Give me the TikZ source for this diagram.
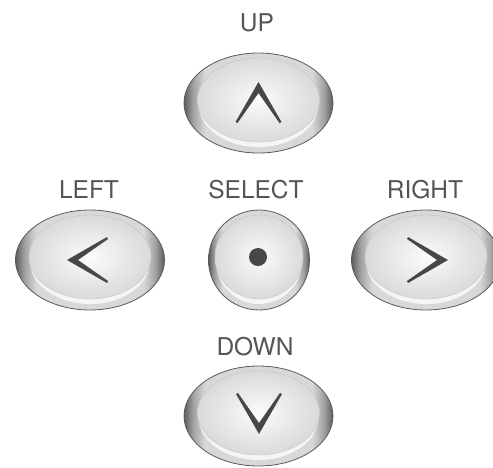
\documentclass[tikz,border=0pt]{standalone}
\usepackage{fontspec}
\setmainfont{TeX Gyre Heros}
\usetikzlibrary{shapes.geometric}

\definecolor{rimdark}{HTML}{5C5C5C}
\definecolor{rimmid}{HTML}{A0A0A0}
\definecolor{rimlight}{HTML}{D8D8D8}
\definecolor{facegray}{HTML}{DADADA}
\definecolor{faceglow}{HTML}{FBFBFB}
\definecolor{edgegray}{HTML}{5A5A5A}
\definecolor{inkgray}{HTML}{474747}
\definecolor{labelgray}{HTML}{555555}

\pgfdeclarehorizontalshading{rimshade}{100bp}{color(0bp)=(rimdark); color(25bp)=(rimdark); color(28bp)=(rimmid); color(32bp)=(rimlight); color(68bp)=(rimlight); color(72bp)=(rimmid); color(75bp)=(rimdark); color(100bp)=(rimdark)}

\tikzset{
    chevron/.pic={
        \fill[inkgray] (-23,19) -- (0,-21) -- (23,19) -- (21,20) -- (0,-10) -- (-21,20) -- cycle;
    }
}

\begin{document}
\begin{tikzpicture}[x=1pt,y=-1pt,
    rim/.style={ellipse, draw=edgegray, line width=0.8pt, shading=rimshade, inner sep=0pt, minimum width=#1, minimum height=100pt},
    glint/.style={ellipse, fill=white!92!gray, inner sep=0pt, minimum width=#1, minimum height=86pt},
    face/.style={ellipse, draw=gray!45, line width=0.4pt, inner color=faceglow, outer color=facegray, inner sep=0pt, minimum width=#1, minimum height=84pt},
    keylabel/.style={anchor=base, text=labelgray, font=\fontsize{24.5}{28}\selectfont}]

    \useasboundingbox (0,0) rectangle (493,467);

    % up
    \node[keylabel] (uplabel) at (257,31) {UP};
    \node[rim=149pt] (upkey) at (258.5,103) {};
    \node[glint=120pt] (upglint) at ([yshift=-1pt]upkey.center) {};
    \node[face=122pt] (upface) at ([yshift=3pt]upkey.center) {};
    \pic at (258.5,103) {chevron};

    % left
    \node[keylabel] (leftlabel) at (89,198) {LEFT};
    \node[rim=149pt] (leftkey) at (90,260) {};
    \node[glint=120pt] (leftglint) at ([yshift=-1pt]leftkey.center) {};
    \node[face=122pt] (leftface) at ([yshift=3pt]leftkey.center) {};
    \pic[rotate=90] at (88,260) {chevron};

    % select
    \node[keylabel] (sellabel) at (256,198) {SELECT};
    \node[rim=101pt] (selkey) at (259,260) {};
    \node[glint=86pt] (selglint) at ([yshift=-1pt]selkey.center) {};
    \node[face=88pt] (selface) at ([yshift=3pt]selkey.center) {};
    \node[circle, fill=inkgray, inner sep=0pt, minimum size=18pt] (seldot) at (258,257) {};

    % right
    \node[keylabel] (rightlabel) at (425,198) {RIGHT};
    \node[rim=149pt] (rightkey) at (426,260) {};
    \node[glint=120pt] (rightglint) at ([yshift=-1pt]rightkey.center) {};
    \node[face=122pt] (rightface) at ([yshift=3pt]rightkey.center) {};
    \pic[rotate=-90] at (427,260) {chevron};

    % down
    \node[keylabel] (downlabel) at (255,355) {DOWN};
    \node[rim=149pt] (downkey) at (258.5,416) {};
    \node[glint=120pt] (downglint) at ([yshift=-1pt]downkey.center) {};
    \node[face=122pt] (downface) at ([yshift=3pt]downkey.center) {};
    \pic[rotate=180] at (259,413) {chevron};
\end{tikzpicture}
\end{document}
